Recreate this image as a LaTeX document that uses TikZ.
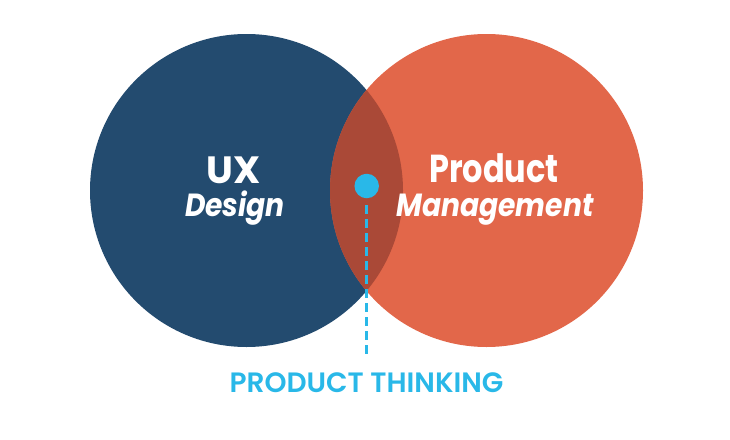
\documentclass[tikz,border=0pt]{standalone}
\usepackage{fontspec}
\setmainfont{Poppins}
\newfontfamily\popsemi{Poppins SemiBold}
\newfontfamily\popnarrow{Poppins}[FakeStretch=0.82]
\newfontfamily\popital{Poppins}[FakeStretch=0.88]
\definecolor{uxblue}{RGB}{35,75,111}
\definecolor{pmorange}{RGB}{226,103,74}
\definecolor{lensred}{RGB}{170,73,55}
\definecolor{thinkcyan}{RGB}{41,184,232}
\tikzset{
  bigcircle/.style={circle, minimum size=313pt, inner sep=0pt, draw=none},
  headtext/.style={text=white, font=\bfseries\fontsize{38}{40}\selectfont, inner sep=0pt, anchor=base},
  subtext/.style={text=white, font=\popital\bfseries\itshape\fontsize{32}{34}\selectfont, inner sep=0pt, anchor=base},
  dotstyle/.style={circle, fill=thinkcyan, minimum size=24.5pt, inner sep=0pt},
  dashline/.style={thinkcyan, line width=3pt, dash pattern=on 9pt off 5pt},
  labeltext/.style={text=thinkcyan, font=\popsemi\fontsize{28}{30}\selectfont, inner sep=0pt, anchor=base}
}
\begin{document}
\begin{tikzpicture}[x=1pt,y=-1pt]
\useasboundingbox (0,0) rectangle (730,439);
\node[bigcircle, fill=uxblue] (ux) at (246.5,190.5) {};
\node[bigcircle, fill=pmorange] (pm) at (486.5,190.5) {};
\begin{scope}
  \clip (ux.center) circle[radius=156.5pt];
  \fill[lensred] (pm.center) circle[radius=156.5pt];
\end{scope}
\node[headtext] (uxt) at (233.5,183) {UX};
\node[subtext] (dest) at (235,216) {Design};
\node[headtext, font=\popnarrow\bfseries\fontsize{39}{41}\selectfont] (prodt) at (494,182) {Product};
\node[subtext] (mgmt) at (495,216) {Management};
\node[dotstyle] (dot) at (366.7,186) {};
\coordinate (dashend) at (366.7,354);
\draw[dashline] ([yshift=-7pt]dot.south) -- (dashend);
\node[labeltext] (think) at (366.5,392) {PRODUCT THINKING};
\end{tikzpicture}
\end{document}
